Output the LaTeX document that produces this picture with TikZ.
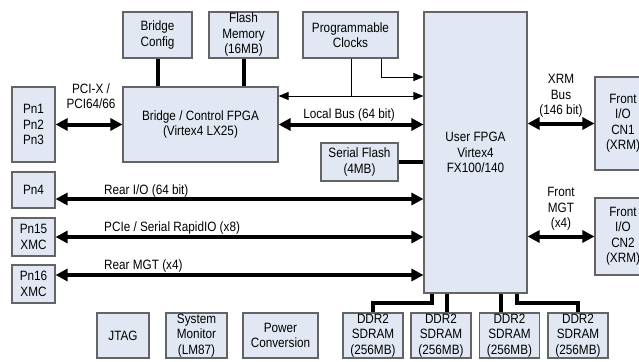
\documentclass[tikz,border=0pt]{standalone}
\usepackage{fontspec}
\setmainfont{Liberation Sans}[FakeStretch=0.87]
\usetikzlibrary{arrows.meta}
\definecolor{boxfill}{RGB}{225,232,243}
\definecolor{boxline}{RGB}{100,100,100}
\tikzset{
	blk/.style={draw=boxline, fill=boxfill, line width=1.1pt, align=center, inner sep=0pt, font=\fontsize{13.5}{15.5}\selectfont},
	lbl/.style={align=center, inner sep=0pt, font=\fontsize{13.5}{15.5}\selectfont},
	bus/.style={line width=4pt},
	twoway/.style={{Triangle[length=12pt,width=12pt]}-{Triangle[length=12pt,width=12pt]}},
	wire/.style={line width=1pt, -{Triangle[length=10pt,width=8pt]}},
}
\begin{document}
\begin{tikzpicture}[x=1pt, y=-1pt]

		\useasboundingbox (0,0) rectangle (639,361);

		\def \bh {45};
		\def \by {335.5};

		\node[blk, minimum width=69pt, minimum height=46pt] (cfg) at (157.5,35) {Bridge\\Config};
		\node[blk, minimum width=69pt, minimum height=46pt] (flash) at (243.5,35) {Flash\\Memory\\(16MB)};
		\node[blk, minimum width=95pt, minimum height=46pt] (clk) at (350.5,35) {Programmable\\Clocks};
		\node[blk, minimum width=155pt, minimum height=75pt] (bfpga) at (200.5,124.5) {Bridge / Control FPGA\\(Virtex4 LX25)};
		\node[blk, minimum width=103pt, minimum height=281pt] (ufpga) at (475.5,152.5) {User FPGA\\Virtex4\\FX100/140};
		\node[blk, minimum width=77pt, minimum height=38pt] (sflash) at (359.5,162) {Serial Flash\\(4MB)};

		\foreach \n/\y/\h/\t in {p13/124.5/75/{Pn1\\Pn2\\Pn3}, p4/190/36/{Pn4}, p15/237/38/{Pn15\\XMC}, p16/284/38/{Pn16\\XMC}}
		    \node[blk, minimum width=43pt, minimum height=\h pt] (\n) at (33.5,\y) {\t};

		\node[blk, minimum width=56pt, minimum height=93pt] (cn1) at (623,123.5) {Front\\I/O\\CN1\\(XRM)};
		\node[blk, minimum width=56pt, minimum height=77pt] (cn2) at (623,236.5) {Front\\I/O\\CN2\\(XRM)};

		\node[blk, minimum width=52pt, minimum height=\bh pt] (jtag) at (123,\by) {JTAG};
		\node[blk, minimum width=61pt, minimum height=\bh pt] (smon) at (196.5,\by) {System\\Monitor\\(LM87)};
		\node[blk, minimum width=75pt, minimum height=\bh pt] (pwr) at (280.5,\by) {Power\\Conversion};

		\foreach \i/\x in {1/373, 2/441, 3/509.5, 4/578}
		    \node[blk, minimum width=60pt, minimum height=\bh pt] (ddr\i) at (\x,\by) {DDR2\\SDRAM\\(256MB)};

		\node[lbl] (pcix) at (91,96) {PCI-X /\\PCI64/66};
		\node[lbl] (lbus) at (349,115) {Local Bus (64 bit)};
		\node[lbl] (xrm) at (561,96) {XRM\\Bus\\(146 bit)};
		\node[lbl] (fmgt) at (561,209) {Front\\MGT\\(x4)};
		\node[lbl, anchor=west] (rio) at (104,191) {Rear I/O (64 bit)};
		\node[lbl, anchor=west] (pcie) at (104,228) {PCIe / Serial RapidIO (x8)};
		\node[lbl, anchor=west] (rmgt) at (104,266) {Rear MGT (x4)};

		\coordinate (ck1) at (351,96);
		\coordinate (ck2) at (381,77);
		\coordinate (r1) at (0,199);
		\coordinate (r3) at (0,275);
		\coordinate (d1) at (432,303);
		\coordinate (d4) at (517,303);

		\draw[bus] (cfg.south) -- (cfg.south |- bfpga.north);
		\draw[bus] (flash.south) -- (flash.south |- bfpga.north);
		\draw[bus, twoway] (p13.east) -- (bfpga.west);
		\draw[bus, twoway] (bfpga.east) -- (ufpga.west |- bfpga.east);

		\draw[line width=1pt] (ck1 |- clk.south) -- (ck1);
		\draw[wire] (ck1) -- (ck1 -| bfpga.east);
		\draw[wire] (ck1) -- (ck1 -| ufpga.west);
		\draw[wire] (ck2 |- clk.south) |- (ufpga.west |- ck2);

		\draw[bus] (sflash.east) -- (sflash.east -| ufpga.west);

		\draw[bus, twoway] (p4.east |- r1) -- (ufpga.west |- r1);
		\draw[bus, twoway] (p15.east) -- (ufpga.west |- p15.east);
		\draw[bus, twoway] (p16.east |- r3) -- (ufpga.west |- r3);

		\draw[bus, twoway] (ufpga.east |- cn1.west) -- (cn1.west);
		\draw[bus, twoway] (ufpga.east |- cn2.west) -- (cn2.west);

		\draw[bus] (d1 |- ufpga.south) -- (d1) -| (ddr1.north);
		\draw[bus] ([xshift=6pt]ddr2.north) -- ([xshift=6pt]ddr2.north |- ufpga.south);
		\draw[bus] ([xshift=-8.5pt]ddr3.north) -- ([xshift=-8.5pt]ddr3.north |- ufpga.south);
		\draw[bus] (d4 |- ufpga.south) -- (d4) -| (ddr4.north);
	\end{tikzpicture}
\end{document}
